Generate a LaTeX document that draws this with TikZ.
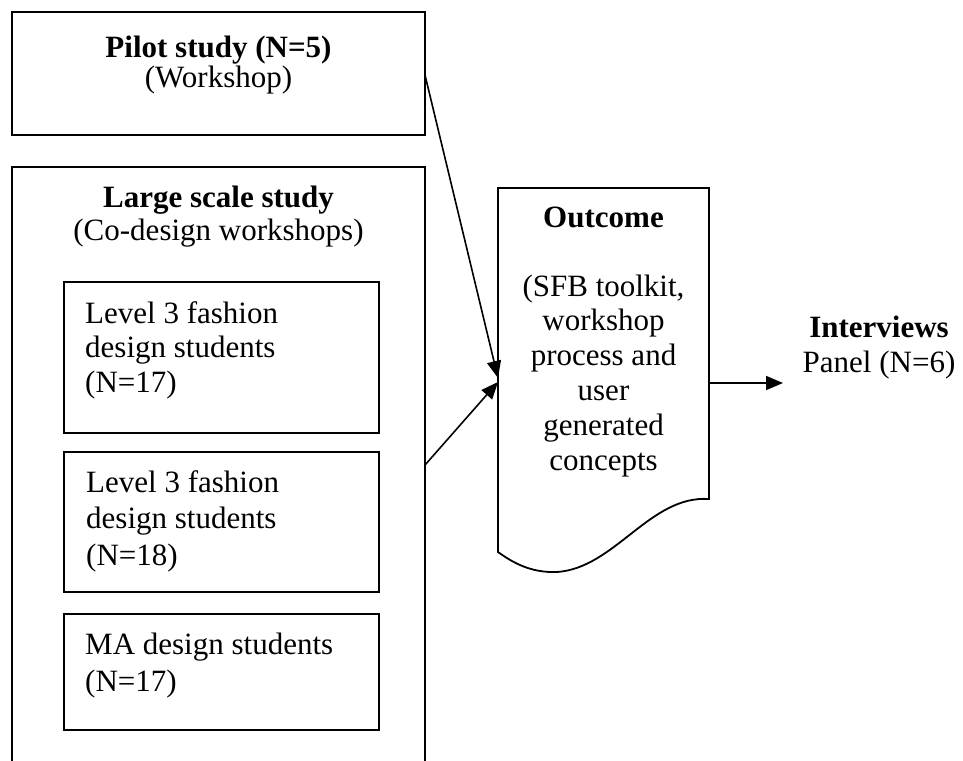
\documentclass[tikz,border=0pt]{standalone}
\usepackage{fontspec}
\setmainfont{Liberation Serif}
\usetikzlibrary{arrows.meta,calc}

\tikzset{
  frame/.style={draw=black, line width=1.8pt, inner sep=0pt, outer sep=0pt, anchor=north west},
  ctext/.style={inner sep=0pt, anchor=base},
  ltext/.style={inner sep=0pt, anchor=base west},
  link/.style={draw=black, line width=1.6pt, -{Triangle[length=17pt,width=14pt]}},
}

\begin{document}
\begin{tikzpicture}[x=1pt, y=-1pt, font=\fontsize{31pt}{35pt}\selectfont]
\useasboundingbox (0,0) rectangle (963,760);
\clip (0,0) rectangle (963,760);
\fill[white] (0,0) rectangle (963,760);

% pilot study
\node[frame, minimum width=413pt, minimum height=123pt] (pilot) at (12,12) {};
\node[ctext] (pilotA) at (218.5,57) {\textbf{Pilot study (N=5)}};
\node[ctext] (pilotB) at (218.5,88) {(Workshop)};

% large scale study, running off the bottom edge
\node[frame, minimum width=413pt, minimum height=640pt] (large) at (12,167) {};
\node[ctext] (largeA) at (218.5,207) {\textbf{Large scale study}};
\node[ctext] (largeB) at (218.5,240) {(Co-design workshops)};

% groups inside the large study
\node[frame, minimum width=315pt, minimum height=151pt] (g1) at (64,282) {};
\node[ltext] (g1a) at (85,323) {Level 3 fashion};
\node[ltext] (g1b) at (85,357.5) {design students};
\node[ltext] (g1c) at (85,392) {(N=17)};

\node[frame, minimum width=315pt, minimum height=140pt] (g2) at (64,452) {};
\node[ltext] (g2a) at (86,492) {Level 3 fashion};
\node[ltext] (g2b) at (86,528.5) {design students};
\node[ltext] (g2c) at (86,565) {(N=18)};

\node[frame, minimum width=315pt, minimum height=116pt] (g3) at (64,614) {};
\node[ltext] (g3a) at (85,654) {MA design students};
\node[ltext] (g3b) at (85,691) {(N=17)};

% outcome document shape
\node[inner sep=0pt, outer sep=0pt, minimum width=211pt, minimum height=364pt, anchor=north west] (outcome) at (498,188) {};
\draw[line width=1.8pt, line join=miter]
  (498,552) -- (498,188) -- (709,188) -- (709,499)
  .. controls (650,495) and (615,568) .. (557,572)
  .. controls (530,573) and (512,562) .. cycle;
\node[ctext] (outA) at (603.5,227) {\textbf{Outcome}};
\node[ctext] (outB) at (603.5,296) {(SFB toolkit,};
\node[ctext] (outC) at (603.5,330.8) {workshop};
\node[ctext] (outD) at (603.5,365.6) {process and};
\node[ctext] (outE) at (603.5,400.4) {user};
\node[ctext] (outF) at (603.5,435.2) {generated};
\node[ctext] (outG) at (603.5,470) {concepts};

% interviews
\node[ctext] (intA) at (879,337) {\textbf{Interviews}};
\node[ctext] (intB) at (879,372) {Panel (N=6)};
\coordinate (intIn) at (783,383);

% connectors
\draw[link] ($(pilot.east)+(0,1.5)$) -- ($(outcome.west)+(0,8)$);
\draw[link] ($(large.east)+(0,-22)$) -- ($(outcome.west)+(0,12)$);
\draw[link] (outcome.east |- intIn) -- (intIn);
\end{tikzpicture}
\end{document}
